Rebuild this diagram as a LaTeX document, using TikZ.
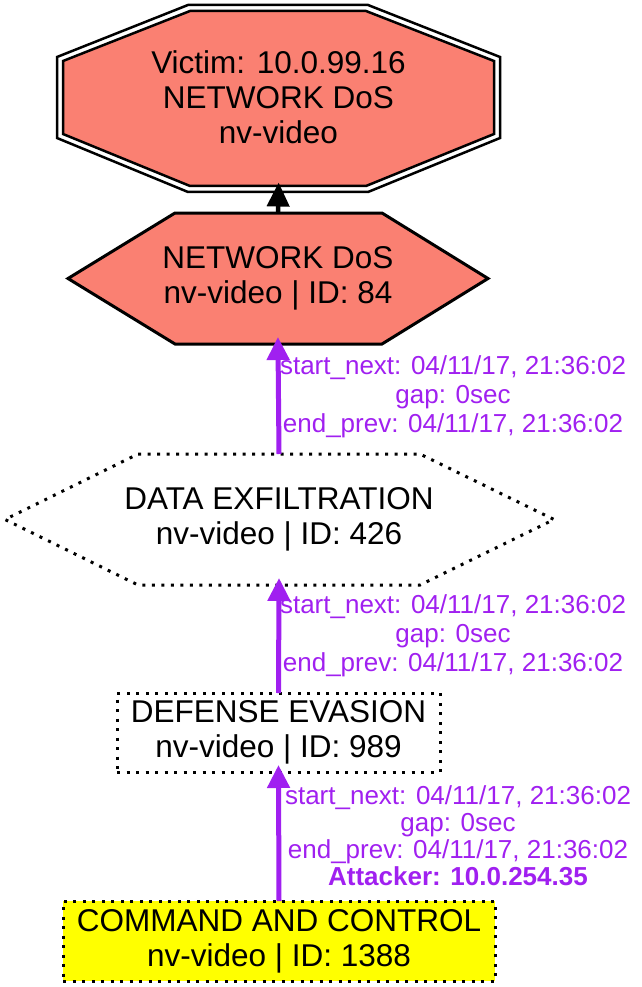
\documentclass[tikz,border=0pt]{standalone}
\usepackage{fontspec}
\setmainfont{Liberation Sans}
\usetikzlibrary{arrows.meta}
\definecolor{salmonc}{HTML}{FA8072}
\definecolor{purplec}{HTML}{A020F0}
\definecolor{yellowc}{HTML}{FFFF00}
\begin{document}
\begin{tikzpicture}[x=1pt,y=-1pt,
  shapebox/.style={inner sep=0pt, outer sep=0pt, align=center, font=\fontsize{31.5}{35}\selectfont},
  elabel/.style={text=purplec, align=center, font=\fontsize{26}{29}\selectfont, inner sep=0pt},
  dotline/.style={line width=3pt, dash pattern=on 3pt off 6.5pt},
  flow/.style={draw=purplec, line width=5pt, -{Triangle[length=23pt,width=22pt]}, shorten >=-7pt},
  solidline/.style={draw=black, line width=3pt, line join=miter},
]
\useasboundingbox (0,0) rectangle (641,987);
% shapes
\draw[solidline, line width=2.5pt] (188,5) -- (368,5) -- (500,57) -- (500,138) -- (368,192) -- (188,192) -- (57,138) -- (57,57) -- cycle;
\draw[solidline, line width=2.5pt, fill=salmonc] (190,11) -- (366,11) -- (494,61) -- (494,134) -- (366,186) -- (190,186) -- (63,134) -- (63,61) -- cycle;
\draw[solidline, fill=salmonc] (175,213) -- (382,213) -- (488,278.5) -- (382,344) -- (175,344) -- (68,278.5) -- cycle;
\draw[dotline] (138,454) -- (420,454) -- (554,519.5) -- (420,585) -- (138,585) -- (5,519.5) -- cycle;
% nodes
\node[shapebox, minimum width=443pt, minimum height=187pt] (victim) at (278.5,97) {Victim: 10.0.99.16\\NETWORK DoS\\nv-video};
\node[shapebox, minimum width=420pt, minimum height=131pt] (dos) at (278,278.5) {NETWORK DoS\\nv-video | ID: 84};
\node[shapebox, minimum width=549pt, minimum height=131pt] (dex) at (279,519.5) {DATA EXFILTRATION\\nv-video | ID: 426};
\node[shapebox, draw, dotline, minimum width=323pt, minimum height=79pt] (de) at (278.5,732.5) {DEFENSE EVASION\\nv-video | ID: 989};
\node[shapebox, draw, dotline, fill=yellowc, minimum width=432pt, minimum height=80pt] (cc) at (279,941) {COMMAND AND CONTROL\\nv-video | ID: 1388};
% connectors
\draw[black, line width=4.5pt, -{Triangle[length=24pt,width=22pt]}, shorten >=-8pt] (dos.north) -- (victim.south);
\draw[flow] (dex.north) -- (dos.south);
\draw[flow] (de.north) -- (dex.south);
\draw[flow] (cc.north) -- (de.south);
% labels
\node[elabel] (l1) at (453,397) {start\_next: 04/11/17, 21:36:02\\gap: 0sec\\end\_prev: 04/11/17, 21:36:02};
\node[elabel] (l2) at (453,636) {start\_next: 04/11/17, 21:36:02\\gap: 0sec\\end\_prev: 04/11/17, 21:36:02};
\node[elabel, font=\fontsize{26}{27}\selectfont] (l3) at (458,836) {start\_next: 04/11/17, 21:36:02\\gap: 0sec\\end\_prev: 04/11/17, 21:36:02\\\textbf{Attacker: 10.0.254.35}};
\end{tikzpicture}
\end{document}
